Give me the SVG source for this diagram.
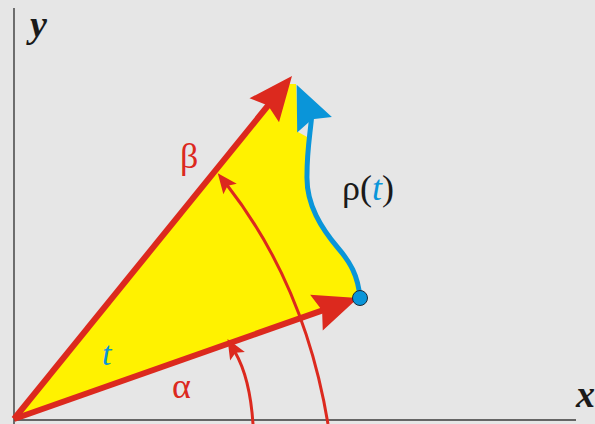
<svg xmlns="http://www.w3.org/2000/svg" width="595" height="424" viewBox="0 0 595 424">
<style>
.axis{stroke:#3a3a3a;stroke-width:1.4;fill:none}
.vec{stroke:#dc291e;stroke-width:6;fill:none}
.arc{stroke:#dc291e;stroke-width:3;fill:none}
.curve{stroke:#0a95d9;stroke-width:5;fill:none}
.lbl{font-family:"Liberation Serif","Times New Roman",serif}
.ax{font-family:"Liberation Serif","Times New Roman",serif;font-weight:bold;font-style:italic;font-size:38px;fill:#1a1a1a}
.greek{font-size:36px;fill:#dc291e}
</style>
<defs>
<marker id="bigRed" markerUnits="userSpaceOnUse" markerWidth="44" markerHeight="38" refX="8" refY="19" orient="auto" overflow="visible">
<path d="M0,0 L44,19 L0,38 L6,19 Z" fill="#dc291e"/>
</marker>
<marker id="smallRed" markerUnits="userSpaceOnUse" markerWidth="20" markerHeight="17" refX="5" refY="8.5" orient="auto" overflow="visible">
<path d="M0,0 L20,8.5 L0,17 L4,8.5 Z" fill="#dc291e"/>
</marker>
<marker id="blueHead" markerUnits="userSpaceOnUse" markerWidth="44" markerHeight="38" refX="7.5" refY="19" orient="246" overflow="visible">
<path d="M0,0 L44,19 L0,38 L6,19 Z" fill="#0a95d9"/>
</marker>
</defs>
<rect x="0" y="0" width="595" height="424" fill="#e6e6e6"/>
<g id="axes">
<path class="axis" d="M14,8 L14,424"/>
<path class="axis" d="M14,420 L576,420"/>
<text class="ax" x="30" y="37">y</text>
<text class="ax" x="576" y="407">x</text>
</g>
<g id="region">
<path d="M14,419 L289,84 L296,84 L298,132 L309,138 C 307,152 307,160 307,175 C 306,205 322,229 338,248 C 350,262 358,275 360,298 Z" fill="#fff200"/>
<text class="lbl" x="102" y="365" font-size="34" font-style="italic" fill="#0a95d9">t</text>
</g>
<g id="connectors">
<path class="vec" d="M14,419 L269.3,104" marker-end="url(#bigRed)"/>
<path class="vec" d="M14,419 L324,309.9" marker-end="url(#bigRed)"/>
<path class="arc" d="M328,424 Q 305,285 227,185" marker-end="url(#smallRed)"/>
<path class="arc" d="M253,424 Q 250,378 235,352" marker-end="url(#smallRed)"/>
<path class="curve" d="M360,298 C 358,275 350,262 338,248 C 322,229 306,205 307,175 C 307,150 310,135 311.5,118" marker-end="url(#blueHead)"/>
</g>
<g id="point">
<circle cx="360" cy="298" r="7.5" fill="#0a95d9" stroke="#1e2a36" stroke-width="1"/>
</g>
<g id="labels">
<text class="lbl greek" x="180" y="168">β</text>
<text class="lbl greek" x="172" y="398">α</text>
<text class="lbl" x="342" y="200" font-size="36" fill="#1a1a1a">ρ(<tspan font-style="italic" fill="#0a95d9">t</tspan>)</text>
</g>
</svg>
